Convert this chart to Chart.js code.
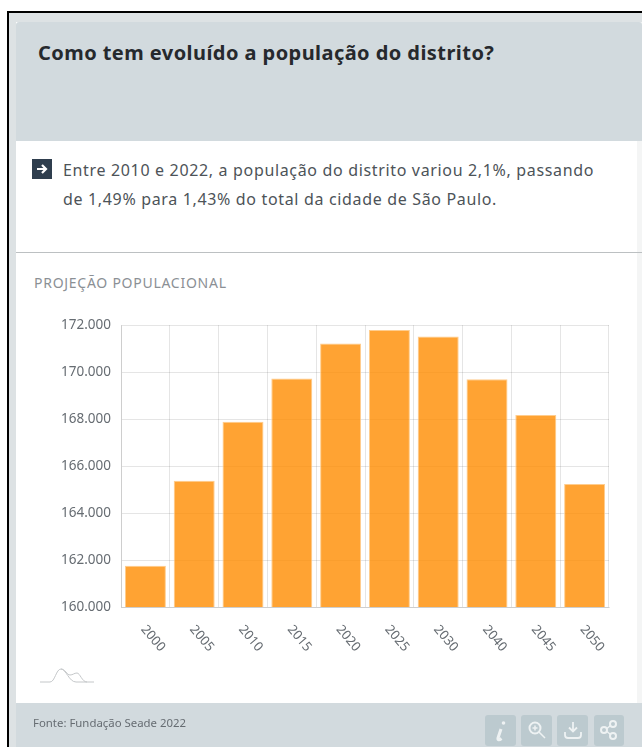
<!DOCTYPE html>
<html lang="pt-BR">
<head>
<meta charset="utf-8">
<title>Projeção populacional</title>
<script src="https://cdn.jsdelivr.net/npm/chart.js@4"></script>
<style>
  html, body { margin: 0; padding: 0; background: #fff; overflow: hidden; }
  body { width: 642px; height: 747px; position: relative; font-family: "Noto Sans", sans-serif; }
  .abs { position: absolute; }
  #frame { left: 7px; top: 11px; width: 635px; height: 736px; box-sizing: border-box;
    border-left: 2px solid #000; border-top: 2px solid #000; background: #dde2e4; }
  #card { left: 16px; top: 22px; width: 621px; height: 725px; background: #fff; }
  #rightStrip { left: 637px; top: 22px; width: 5px; height: 725px; background: #f4f5f5; }
  #head { left: 16px; top: 22px; width: 626px; height: 119px; background: #d2dade; border-radius: 3px 3px 0 0; }
  #title { left: 38px; top: 39px; margin: 0; font-size: 20px; letter-spacing: 0.44px; line-height: 28px; font-weight: 700; color: #26292d; white-space: nowrap; }
  #arrow { left: 32px; top: 159px; }
  #text { left: 63px; top: 156px; margin: 0; font-size: 16px; letter-spacing: 0.66px; line-height: 29px; color: #4d5358; white-space: nowrap; }
  #rule { left: 16px; top: 252px; width: 626px; height: 1px; background: #bcc0c2; }
  #sub { left: 34px; top: 273px; font-size: 14px; letter-spacing: 0.73px; line-height: 20px; color: #8b9095; white-space: nowrap; }
  #wrap { left: 16px; top: 307px; width: 620px; height: 373px; }
  #logo { left: 38px; top: 666px; }
  #foot { left: 16px; top: 703px; width: 626px; height: 44px; background: #d2dade; }
  #src { left: 33px; top: 715px; font-size: 11.4px; line-height: 16px; color: #666c72; white-space: nowrap; }
  .btn { top: 715px; height: 31px; border-radius: 3px; background: #bccacf; }
</style>
</head>
<body>
<div class="abs" id="frame"></div>
<div class="abs" id="card"></div>
<div class="abs" id="rightStrip"></div>
<div class="abs" id="head"></div>
<h1 class="abs" id="title">Como tem evoluído a população do distrito?</h1>
<svg class="abs" id="arrow" width="20" height="20" viewBox="0 0 20 20">
  <rect width="20" height="20" fill="#2f3e4e"/>
  <path d="M5 10h9M10 6l4 4-4 4" fill="none" stroke="#fff" stroke-width="2.2"/>
</svg>
<p class="abs" id="text">Entre 2010 e 2022, a população do distrito variou 2,1%, passando<br>de 1,49% para 1,43% do total da cidade de São Paulo.</p>
<div class="abs" id="rule"></div>
<div class="abs" id="sub">PROJEÇÃO POPULACIONAL</div>
<div class="abs" id="wrap"><canvas id="popChart" width="620" height="373"></canvas></div>
<svg class="abs" id="logo" width="58" height="20" viewBox="0 0 58 20">
  <path d="M2 16H12C17 16 18 3 23 3C28 3 31 16 38 16H56" fill="none" stroke="#c4c7c9" stroke-width="1"/>
  <path d="M23 3C27 3 29 9 32 9C35 9 36 7 39 7C42 7 44 16 49 16" fill="none" stroke="#c4c7c9" stroke-width="1"/>
</svg>
<div class="abs" id="foot"></div>
<div class="abs" id="src">Fonte: Fundação Seade 2022</div>
<div class="abs btn" style="left:485px;width:31px"></div>
<div class="abs btn" style="left:521px;width:31px"></div>
<div class="abs btn" style="left:557px;width:31px"></div>
<div class="abs btn" style="left:594px;width:30px"></div>
<svg class="abs" style="left:485px;top:715px" width="140" height="31" viewBox="0 0 140 31">
  <g fill="none" stroke="#eef2f3" stroke-width="2">
    <path d="M16 14l-3 9c-.5 2 1 2.500 3.500.5" stroke-width="3"/>
    <circle cx="18.500" cy="8" r="1.800" fill="#eef2f3" stroke="none"/>
    <circle cx="50" cy="13" r="5.500"/><path d="M54 17l6 6M47.500 13h5M50 10.500v5" stroke-width="1.500"/>
    <path d="M88 7v9M84 12.500l4 4 4-4M80 17v3c0 2 1 3 3 3h10c2 0 3-1 3-3v-3" stroke-width="1.800"/>
    <circle cx="119" cy="15" r="3"/><circle cx="128" cy="9" r="3"/><circle cx="128" cy="21" r="3"/>
    <path d="M122 13.500l3.500-3M122 16.500l3.500 3" stroke-width="1.500"/>
  </g>
</svg>
<script>
const years = ["2000", "2005", "2010", "2015", "2020", "2025", "2030", "2040", "2045", "2050"];
const population = [161760, 165375, 167885, 169730, 171220, 171790, 171520, 169690, 168170, 165235];
const axisMin = 160000;
const axisMax = 172000;
const axisStep = 2000;

const grid = { color: "rgba(0,0,0,0.1)", lineWidth: 1, drawTicks: false };
const tickFont = { family: "'Noto Sans', sans-serif", size: 13.5 };

new Chart(document.getElementById("popChart"), {
  type: "bar",
  data: {
    labels: years,
    datasets: [{
      label: "Projeção populacional",
      data: population,
      backgroundColor: "rgba(255,140,0,0.8)",
      borderColor: "rgba(255,200,130,0.9)",
      borderWidth: 1,
      categoryPercentage: 1,
      barPercentage: 0.84
    }]
  },
  options: {
    responsive: false,
    animation: false,
    layout: { padding: { top: 12, right: 27, left: 0, bottom: 0 } },
    plugins: { legend: { display: false }, tooltip: { enabled: false } },
    scales: {
      x: {
        grid: grid,
        border: { color: "rgba(0,0,0,0.1)" },
        // labels hang to the right of the tick, the library only right-aligns rotated ones
        afterBuildTicks: s => { s._getXAxisLabelAlignment = () => "left"; },
        afterFit: s => { s.height = 73; },
        ticks: { color: "#666c72", font: { family: tickFont.family, size: 13 }, padding: 15, labelOffset: -2, minRotation: -50, maxRotation: -50, autoSkip: false }
      },
      y: {
        min: axisMin,
        max: axisMax,
        grid: grid,
        border: { color: "rgba(0,0,0,0.1)" },
        afterFit: s => { s.width = 105; },
        ticks: {
          stepSize: axisStep,
          color: "#666c72",
          font: tickFont,
          padding: 10,
          callback: v => String(v).replace(/(\d{3})$/, ".$1")
        }
      }
    }
  }
});
</script>
</body>
</html>
